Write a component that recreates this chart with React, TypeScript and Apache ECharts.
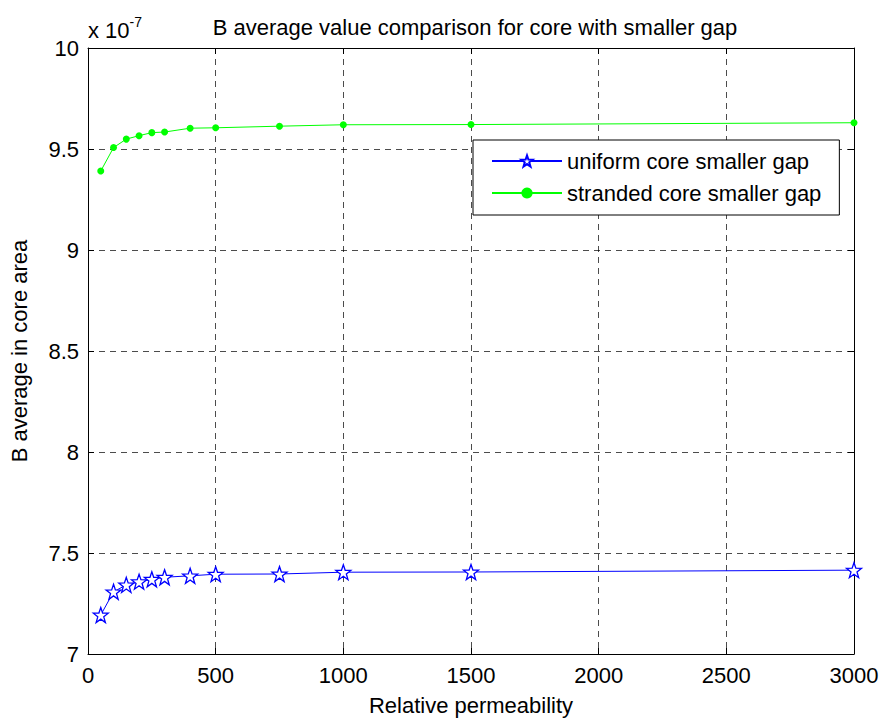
import React, { useEffect, useRef } from "react";
import * as echarts from "echarts";

const permeability = [50, 100, 150, 200, 250, 300, 400, 500, 750, 1000, 1500, 3000];
// values in units of 1e-7
const uniformValues = [7.193, 7.308, 7.342, 7.358, 7.37, 7.38, 7.387, 7.395, 7.396, 7.405, 7.406, 7.415];
const strandedValues = [9.391, 9.507, 9.549, 9.566, 9.581, 9.584, 9.603, 9.605, 9.613, 9.62, 9.621, 9.63];
const seriesNames = ["uniform core smaller gap", "stranded core smaller gap"];

const FONT = "'Liberation Sans', Arial, Helvetica, sans-serif";
const FS = 22;
const STAR =
  "path://M12,1.5 L14.6,8.9 L22.5,9.1 L16.2,13.9 L18.5,21.5 L12,17 L5.5,21.5 L7.8,13.9 L1.5,9.1 L9.4,8.9 Z";

export default function App() {
  const ref = useRef<HTMLDivElement>(null);
  useEffect(() => {
    if (!ref.current) return;
    const chart = echarts.init(ref.current, undefined, { renderer: "svg" });
    const gridLine = { show: true, lineStyle: { color: "#000", type: [6, 5] as any, width: 1, opacity: 0.7 } };
    const xBase = {
      type: "value" as const,
      min: 0,
      max: 3000,
      interval: 500,
      axisLine: { show: true, onZero: false, lineStyle: { color: "#000", width: 1 } },
      axisTick: { show: true, inside: true, length: 6, lineStyle: { color: "#000" } },
    };
    const yBase = {
      type: "value" as const,
      min: 7,
      max: 10,
      interval: 0.5,
      axisLine: { show: true, onZero: false, lineStyle: { color: "#000", width: 1 } },
      axisTick: { show: true, inside: true, length: 6, lineStyle: { color: "#000" } },
    };
    chart.setOption({
      animation: false,
      backgroundColor: "#fff",
      textStyle: { fontFamily: FONT },
      title: {
        text: "B average value comparison for core with smaller gap",
        left: 470,
        textAlign: "center",
        top: 11,
        textStyle: { fontSize: FS, fontWeight: "normal", color: "#000", fontFamily: FONT },
      },
      grid: { left: 87, right: 31, top: 48, bottom: 68, containLabel: false },
      xAxis: [
        {
          ...xBase,
          position: "bottom",
          name: "Relative permeability",
          nameLocation: "middle",
          nameGap: 40,
          nameTextStyle: { fontSize: FS, color: "#000", fontFamily: FONT },
          axisLabel: {
            fontSize: FS,
            color: "#000",
            margin: 10,
            fontFamily: FONT,
            formatter: (v: number) => String(v),
          },
          splitLine: gridLine,
        },
        {
          ...xBase,
          position: "top",
          axisLabel: { show: false },
          splitLine: { show: false },
        },
      ],
      yAxis: [
        {
          ...yBase,
          position: "left",
          name: "B average in core area",
          nameLocation: "middle",
          nameGap: 58,
          nameTextStyle: { fontSize: FS, color: "#000", fontFamily: FONT },
          axisLabel: {
            fontSize: FS,
            color: "#000",
            margin: 9,
            fontFamily: FONT,
            formatter: (v: number) => String(v),
          },
          splitLine: gridLine,
        },
        {
          ...yBase,
          position: "right",
          axisLabel: { show: false },
          splitLine: { show: false },
        },
      ],
      legend: {
        orient: "vertical",
        left: 473,
        top: 140,
        padding: [10, 18, 11, 18],
        itemGap: 10,
        itemWidth: 70,
        itemHeight: 14,
        backgroundColor: "#fff",
        borderColor: "#000",
        borderWidth: 1,
        borderRadius: 0,
        textStyle: { fontSize: FS, color: "#000", fontFamily: FONT, lineHeight: 22 },
        data: seriesNames,
      },
      graphic: [
        {
          type: "text",
          left: 88,
          top: 15,
          style: {
            text: "{a|x 10}{b|-7}",
            rich: {
              a: { fontSize: FS, fontFamily: FONT, fill: "#000", verticalAlign: "bottom" },
              b: { fontSize: 14, fontFamily: FONT, fill: "#000", verticalAlign: "top", padding: [0, 0, 12, 0] },
            },
          },
        },
      ],
      series: [
        {
          name: seriesNames[0],
          type: "line",
          data: permeability.map((x, i) => [x, uniformValues[i]]),
          symbol: STAR,
          symbolSize: 15,
          showAllSymbol: true,
          lineStyle: { color: "#0000ff", width: 1 },
          itemStyle: { color: "#fff", borderColor: "#0000ff", borderWidth: 1.3 },
          emphasis: { disabled: true },
        },
        {
          name: seriesNames[1],
          type: "line",
          data: permeability.map((x, i) => [x, strandedValues[i]]),
          symbol: "circle",
          symbolSize: 7,
          showAllSymbol: true,
          lineStyle: { color: "#00ff00", width: 1 },
          itemStyle: { color: "#00ff00", borderColor: "#00ff00", borderWidth: 0 },
          emphasis: { disabled: true },
        },
      ],
    });
    return () => chart.dispose();
  }, []);
  return (
    <div
      ref={ref}
      style={{ position: "fixed", left: 0, top: 0, width: 885, height: 722, background: "#fff" }}
    />
  );
}
